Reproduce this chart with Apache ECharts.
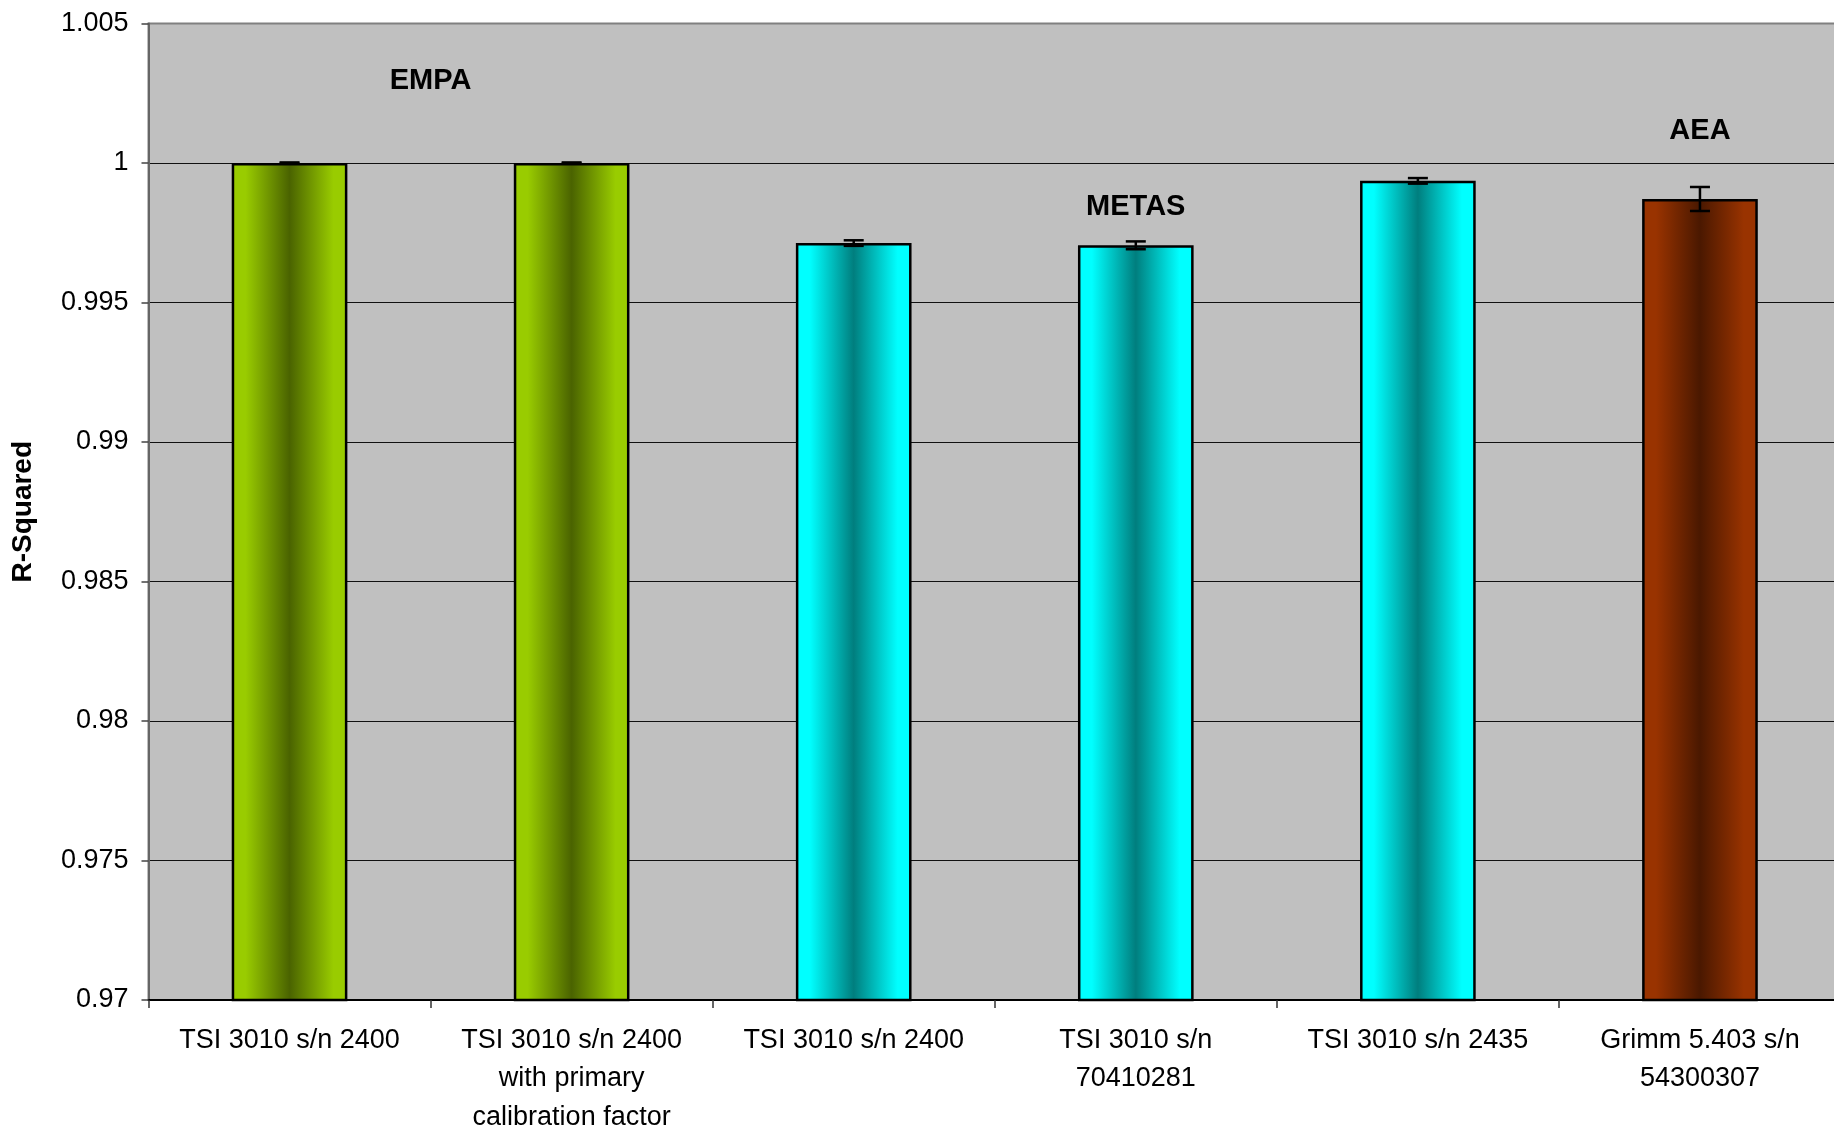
<!DOCTYPE html>
<html>
<head>
<meta charset="utf-8">
<script src="https://cdn.jsdelivr.net/npm/echarts@6/dist/echarts.min.js"></script>
<style>
html,body{margin:0;padding:0;background:#fff;}
#chart{width:1834px;height:1130px;}
</style>
</head>
<body>
<div id="chart"></div>
<script>
// ---- data ----
var categories = [
  'TSI 3010 s/n 2400',
  'TSI 3010 s/n 2400\nwith primary\ncalibration factor',
  'TSI 3010 s/n 2400',
  'TSI 3010 s/n\n70410281',
  'TSI 3010 s/n 2435',
  'Grimm 5.403 s/n\n54300307'
];
var rSquared = [1.0, 1.0, 0.99713, 0.99705, 0.99936, 0.99871];
var rSquaredErr = [0.00002, 0.00002, 0.0001, 0.00014, 0.0001, 0.00043];
var barGroup = ['EMPA', 'EMPA', 'METAS', 'METAS', 'METAS', 'AEA'];
var annotationText = ['EMPA', 'METAS', 'AEA'];
var annotationCatFrom = [0, 3, 5];
var annotationCatTo = [1, 3, 5];
var annotationY = [1.00294, 0.99842, 1.00114];
var yTicks = { min: 0.97, max: 1.005, interval: 0.005 };

// ---- styles ----
var groupColors = {
  EMPA: { edge: '#99CC00', mid: '#4A6300' },
  METAS: { edge: '#00FFFF', mid: '#007E7E' },
  AEA: { edge: '#993300', mid: '#4A1800' }
};
function grad(c) {
  return new echarts.graphic.LinearGradient(0, 0, 1, 0, [
    { offset: 0, color: c.edge },
    { offset: 0.12, color: c.edge },
    { offset: 0.5, color: c.mid },
    { offset: 0.88, color: c.edge },
    { offset: 1, color: c.edge }
  ]);
}
var barData = rSquared.map(function (v, i) {
  return { value: v, itemStyle: { color: grad(groupColors[barGroup[i]]) } };
});
var errData = rSquared.map(function (v, i) { return [i, v, rSquaredErr[i]]; });
var annData = annotationText.map(function (t, i) {
  return [annotationCatFrom[i], annotationCatTo[i], annotationY[i]];
});

var FONT = '"Liberation Sans", Arial, sans-serif';
var chart = echarts.init(document.getElementById('chart'), null, { renderer: 'canvas' });
chart.setOption({
  animation: false,
  backgroundColor: '#ffffff',
  grid: {
    left: 148.5, top: 23.5, right: -7, bottom: 130,
    outerBoundsMode: 'none',
    containLabel: false,
    show: true, backgroundColor: '#C0C0C0', borderColor: '#808080', borderWidth: 2
  },
  xAxis: {
    type: 'category',
    data: categories,
    axisLine: { show: true, lineStyle: { color: '#000', width: 2 } },
    axisTick: { show: true, alignWithLabel: false, length: 8, lineStyle: { color: '#333', width: 1.5 } },
    axisLabel: {
      interval: 0, margin: 21, fontSize: 27, lineHeight: 38.6, color: '#000', fontFamily: FONT
    },
    splitLine: { show: false }
  },
  yAxis: {
    type: 'value',
    min: yTicks.min, max: yTicks.max, interval: yTicks.interval,
    name: 'R-Squared',
    nameLocation: 'middle',
    nameGap: 111,
    nameTextStyle: { fontSize: 28, fontWeight: 'bold', color: '#000', fontFamily: FONT },
    axisLine: { show: true, lineStyle: { color: '#666', width: 2 } },
    axisTick: { show: true, length: 7, lineStyle: { color: '#444', width: 1.5 } },
    axisLabel: {
      margin: 20, fontSize: 27, color: '#000', fontFamily: FONT,
      formatter: function (v) { return String(+v.toFixed(3)); }
    },
    splitLine: { show: true, showMaxLine: false, lineStyle: { color: '#111', width: 1.2 } }
  },
  series: [
    {
      type: 'bar',
      data: barData,
      barWidth: '41%',
      itemStyle: { borderColor: '#000', borderWidth: 2.5 },
      z: 2
    },
    {
      type: 'custom',
      data: errData,
      z: 3,
      renderItem: function (params, api) {
        var i = api.value(0), v = api.value(1), e = api.value(2);
        var top = api.coord([i, v + e]);
        var bot = api.coord([i, v - e]);
        var hw = 10;
        var st = { stroke: '#000', lineWidth: 2.5 };
        return {
          type: 'group',
          children: [
            { type: 'line', shape: { x1: top[0], y1: top[1], x2: bot[0], y2: bot[1] }, style: st },
            { type: 'line', shape: { x1: top[0] - hw, y1: top[1], x2: top[0] + hw, y2: top[1] }, style: st },
            { type: 'line', shape: { x1: bot[0] - hw, y1: bot[1], x2: bot[0] + hw, y2: bot[1] }, style: st }
          ]
        };
      }
    },
    {
      type: 'custom',
      data: annData,
      z: 4,
      renderItem: function (params, api) {
        var a = api.coord([api.value(0), api.value(2)]);
        var b = api.coord([api.value(1), api.value(2)]);
        return {
          type: 'text',
          x: (a[0] + b[0]) / 2,
          y: a[1],
          style: {
            text: annotationText[params.dataIndex],
            fill: '#000',
            font: 'bold 29px ' + FONT,
            align: 'center',
            verticalAlign: 'middle'
          }
        };
      }
    }
  ]
});
</script>
</body>
</html>
